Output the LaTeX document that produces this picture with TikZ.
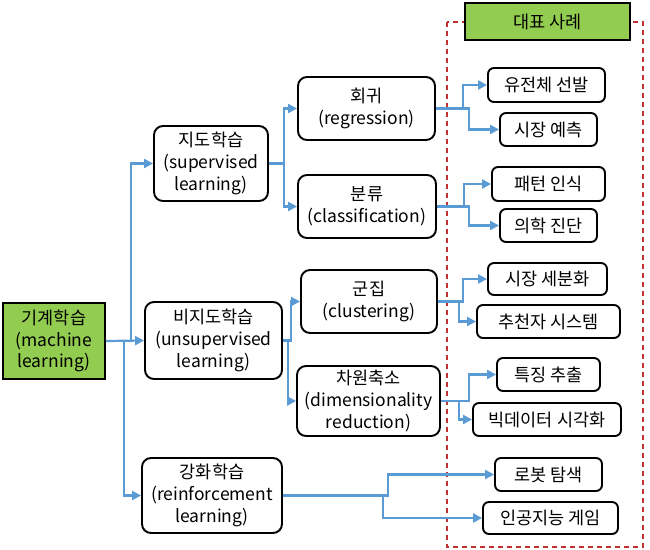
\documentclass[tikz,border=0pt]{standalone}
\usepackage{fontspec}
\setmainfont{Noto Sans CJK KR}
\usetikzlibrary{arrows.meta}
\definecolor{lgreen}{RGB}{146,204,80}
\definecolor{cblue}{RGB}{91,155,213}
\definecolor{dred}{RGB}{192,50,50}
\tikzset{
  base/.style={draw=black, line width=1.9pt, align=center, inner sep=0pt,
    font=\fontsize{17.5}{21.7}\selectfont},
  rbox/.style={base, fill=white, rounded corners=9pt},
  ebox/.style={base, fill=white, rounded corners=6pt},
  gbox/.style={base, fill=lgreen, rounded corners=0pt},
  conn/.style={draw=cblue, line width=2.2pt, -{Triangle[length=9pt,width=9pt]}},
}
\begin{document}
\begin{tikzpicture}[x=1pt,y=-1pt]
\useasboundingbox (0,0) rectangle (650,549);
% dashed frame
\draw[dred, line width=1.3pt, dash pattern=on 5pt off 4pt] (447,22) rectangle (643,547);
% main nodes
\node[gbox, minimum width=102pt, minimum height=76pt] (ml) at (54,341) {기계학습\\(machine\\learning)};
\node[rbox, minimum width=114pt, minimum height=75pt] (sup) at (211,163.5) {지도학습\\(supervised\\learning)};
\node[rbox, minimum width=137pt, minimum height=77pt] (unsup) at (213.5,340.5) {비지도학습\\(unsupervised\\learning)};
\node[rbox, minimum width=140pt, minimum height=75pt] (rein) at (212,495.5) {강화학습\\(reinforcement\\learning)};
\node[rbox, minimum width=137pt, minimum height=63pt] (reg) at (366.5,108.5) {회귀\\(regression)};
\node[rbox, minimum width=138pt, minimum height=63pt] (cls) at (367,206.5) {분류\\(classification)};
\node[rbox, minimum width=136pt, minimum height=63pt] (clu) at (369,301.5) {군집\\(clustering)};
\node[rbox, minimum width=143pt, minimum height=70pt] (dim) at (368.5,401) {차원축소\\(dimensionality\\reduction)};
% header
\node[gbox, minimum width=165pt, minimum height=37pt] (hdr) at (547.5,21.5) {대표 사례};
% examples
\node[ebox, minimum width=117pt, minimum height=34pt] (e1) at (546.5,85) {유전체 선발};
\node[ebox, minimum width=97pt, minimum height=33pt] (e2) at (548.5,129.5) {시장 예측};
\node[ebox, minimum width=113pt, minimum height=34pt] (e3) at (548.5,184) {패턴 인식};
\node[ebox, minimum width=97pt, minimum height=33pt] (e4) at (548.5,225.5) {의학 진단};
\node[ebox, minimum width=119pt, minimum height=32pt] (e5) at (547.5,279) {시장 세분화};
\node[ebox, minimum width=143pt, minimum height=33pt] (e6) at (548.5,321.5) {추천자 시스템};
\node[ebox, minimum width=103pt, minimum height=33pt] (e7) at (548.5,374.5) {특징 추출};
\node[ebox, minimum width=148pt, minimum height=33pt] (e8) at (547,419.5) {빅데이터 시각화};
\node[ebox, minimum width=107pt, minimum height=33pt] (e9) at (548.5,474.5) {로봇 탐색};
\node[ebox, minimum width=135pt, minimum height=32pt] (e10) at (550.5,518) {인공지능 게임};
% connectors
\draw[conn] (ml.east) -- ++(25,0) |- (sup.west);
\draw[conn] (ml.east) -- (unsup.west);
\draw[conn] (ml.east) -- ++(18,0) |- (rein.west);
\draw[conn] (sup.east) -- ++(15,0) |- (reg.west);
\draw[conn] (sup.east) -- ++(15,0) |- (cls.west);
\draw[conn] (unsup.east) -- ++(8,0) |- (clu.west);
\draw[conn] (unsup.east) -- ++(5,0) |- (dim.west);
\draw[conn] (rein.east) -- ++(105,0) |- (e9.west);
\draw[conn] (rein.east) -- ++(100,0) |- (e10.west);
\draw[conn] (reg.east) -- ++(27,0) |- (e1.west);
\draw[conn] (reg.east) -- ++(33,0) |- (e2.west);
\draw[conn] (cls.east) -- ++(27,0) |- (e3.west);
\draw[conn] (cls.east) -- ++(32,0) |- (e4.west);
\draw[conn] (clu.east) -- ++(25,0) |- (e5.west);
\draw[conn] (clu.east) -- ++(21,0) |- (e6.west);
\draw[conn] (dim.east) -- ++(28,0) |- (e7.west);
\draw[conn] (dim.east) -- ++(18,0) |- (e8.west);
\end{tikzpicture}
\end{document}
